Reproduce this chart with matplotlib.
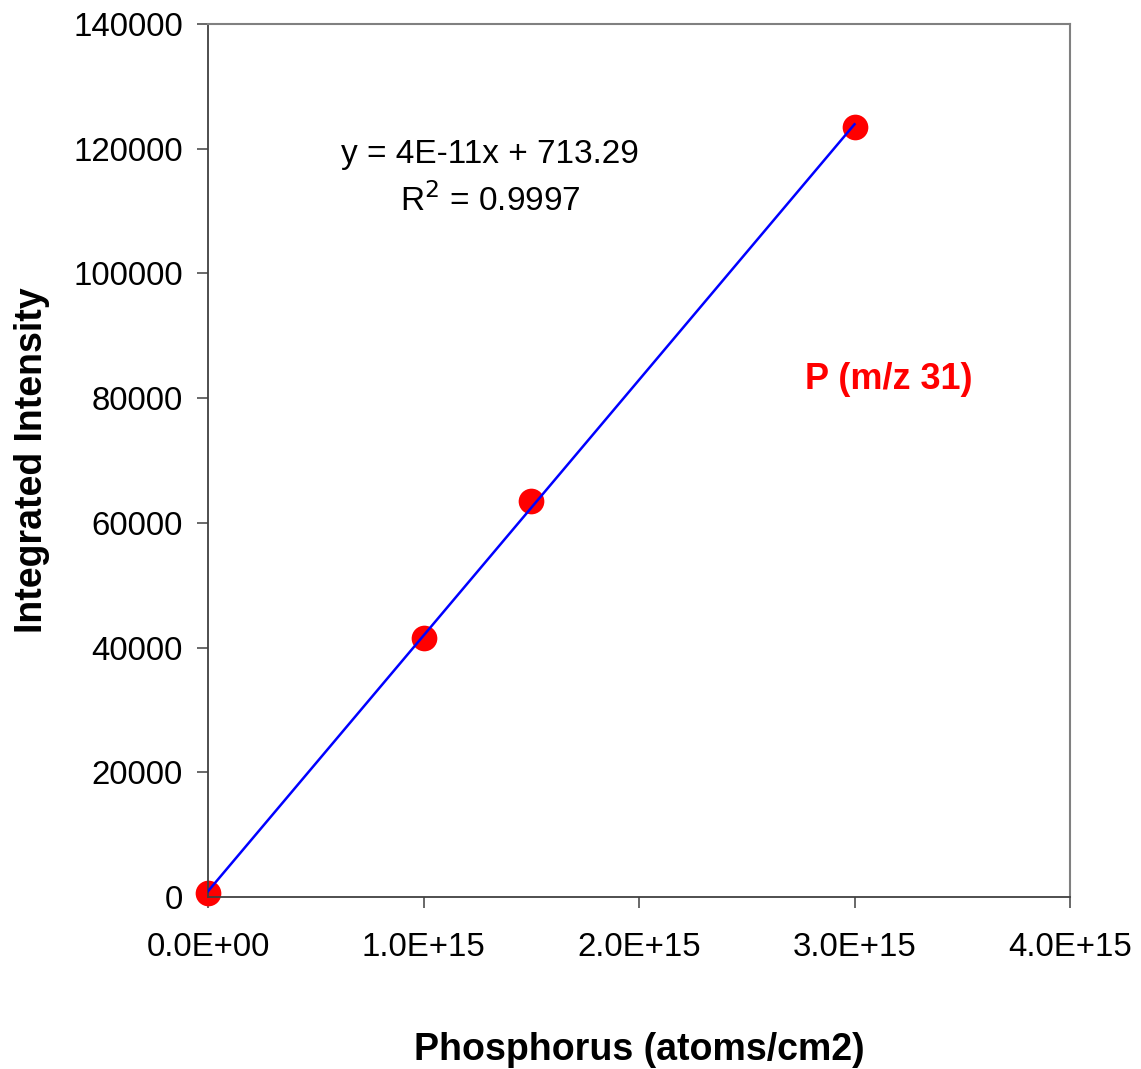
import numpy as np
import matplotlib
matplotlib.use("Agg")
import matplotlib.pyplot as plt
from matplotlib.ticker import FuncFormatter, MultipleLocator

plt.rcParams['font.family'] = ['Liberation Sans', 'DejaVu Sans']

# Data
phosphorus = np.array([0.0, 1.0e15, 1.5e15, 3.0e15])
intensity = np.array([600, 41600, 63500, 123500])
eq_text = "y = 4E-11x + 713.29"
r2_text = "R$^2$ = 0.9997"
species_label = "P (m/z 31)"
xlabel = "Phosphorus (atoms/cm2)"
ylabel = "Integrated Intensity"

fig = plt.figure(figsize=(11.41, 10.69), dpi=100)
ax = fig.add_axes([0.1823, 0.1609, 0.7555, 0.8166])

slope, intercept = np.polyfit(phosphorus, intensity, 1)
xf = np.array([phosphorus.min(), phosphorus.max()])
ax.plot(xf, slope * xf + intercept, color='#0000ff', lw=1.8, zorder=3)
ax.plot(phosphorus, intensity, 'o', color='#ff0000', ms=18.5, mec='none',
        zorder=2, clip_on=False)

ax.set_xlim(0, 4e15)
ax.set_ylim(0, 140000)
ax.xaxis.set_major_locator(MultipleLocator(1e15))
ax.yaxis.set_major_locator(MultipleLocator(20000))
ax.xaxis.set_major_formatter(FuncFormatter(lambda v, p: f"{v:.1E}"))
ax.yaxis.set_major_formatter(FuncFormatter(lambda v, p: f"{v:.0f}"))
ax.tick_params(axis='both', direction='out', length=8, width=1.1,
               color='#404040', labelsize=23.8, pad=10)
ax.tick_params(axis='x', pad=17)

for s in ['left', 'bottom']:
    ax.spines[s].set_color('#404040')
    ax.spines[s].set_linewidth(1.3)
for s in ['top', 'right']:
    ax.spines[s].set_color('#808080')
    ax.spines[s].set_linewidth(1.5)

ax.set_xlabel(xlabel, fontsize=27, fontweight='bold', labelpad=50)
ax.set_ylabel(ylabel, fontsize=27, fontweight='bold', labelpad=17)

ax.text(1.31e15, 119000, eq_text, fontsize=24, ha='center', va='center')
ax.text(1.31e15, 111700, r2_text, fontsize=24, ha='center', va='center')
ax.text(3.16e15, 83000, species_label, fontsize=26, fontweight='bold',
        color='#ff0000', ha='center', va='center')

fig.savefig("out.png", dpi=100, facecolor='white')
